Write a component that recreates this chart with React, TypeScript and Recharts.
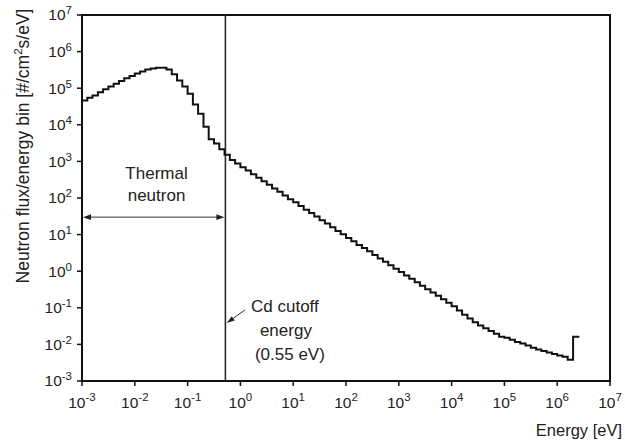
import React from 'react';
import { LineChart, Line, XAxis, YAxis, ReferenceLine, ReferenceArea, ReferenceDot } from 'recharts';

// Energy bin edges [eV] (lower edges, plus the final upper edge)
const energyEdges = [
  1e-3, 1.26e-3, 1.58e-3, 2e-3, 2.51e-3, 3.16e-3, 3.98e-3, 5.01e-3, 6.31e-3, 7.94e-3,
  1e-2, 1.26e-2, 1.58e-2, 2e-2, 2.51e-2, 3.16e-2, 3.98e-2, 5.01e-2, 6.31e-2, 7.94e-2,
  1e-1, 1.26e-1, 1.58e-1, 2e-1, 2.51e-1, 3.16e-1, 3.98e-1, 5.01e-1, 6.31e-1, 7.94e-1,
  1, 1.26, 1.58, 2, 2.51, 3.16, 3.98, 5.01, 6.31, 7.94,
  10, 12.6, 15.8, 20, 25.1, 31.6, 39.8, 50.1, 63.1, 79.4,
  100, 126, 158, 200, 251, 316, 398, 501, 631, 794,
  1e3, 1.26e3, 1.58e3, 2e3, 2.51e3, 3.16e3, 3.98e3, 5.01e3, 6.31e3, 7.94e3,
  1e4, 1.26e4, 1.58e4, 2e4, 2.51e4, 3.16e4, 3.98e4, 5.01e4, 6.31e4, 7.94e4,
  1e5, 1.26e5, 1.58e5, 2e5, 2.51e5, 3.16e5, 3.98e5, 5.01e5, 6.31e5, 7.94e5,
  1e6, 1.26e6, 1.58e6, 2e6, 2.63e6,
];

// Neutron flux per energy bin [#/cm^2 s/eV]
const fluxValues = [
  4.6e4, 5.5e4, 6.3e4, 7.8e4, 9.3e4, 1.12e5, 1.32e5, 1.58e5, 1.86e5, 2.14e5,
  2.51e5, 2.88e5, 3.24e5, 3.47e5, 3.63e5, 3.6e5, 3.24e5, 2.4e5, 1.62e5, 1.12e5,
  7.1e4, 3.6e4, 2.0e4, 8.9e3, 4.0e3, 3.1e3, 2.14e3, 1.51e3, 1.1e3, 870,
  690, 560, 447, 355, 288, 229, 182, 148, 117, 93,
  76, 60, 48, 39, 31, 24.5, 20, 15.8, 12.6, 10.2,
  8.1, 6.6, 5.2, 4.3, 3.5, 2.75, 2.24, 1.82, 1.45, 1.17,
  0.95, 0.76, 0.62, 0.5, 0.4, 0.32, 0.26, 0.214, 0.17, 0.138,
  0.11, 0.085, 0.065, 0.051, 0.04, 0.033, 0.0275, 0.0234, 0.0195, 0.0162,
  0.0151, 0.0135, 0.0117, 0.0105, 0.0093, 0.0081, 0.0072, 0.0066, 0.006, 0.0055,
  0.005, 0.0046, 0.0038, 0.0162,
];

const xTicks = [1e-3, 1e-2, 1e-1, 1, 10, 100, 1e3, 1e4, 1e5, 1e6, 1e7];
const yTicks = [1e-3, 1e-2, 1e-1, 1, 10, 100, 1e3, 1e4, 1e5, 1e6, 1e7];

const cutoffLineEnergy = 0.52;
const thermalArrowFlux = 30;
const thermalArrowStart = 1e-3;
const cdArrowFrom = { x: 1.22, y: 0.087 };
const cdArrowTo = { x: 0.55, y: 0.0385 };
const thermalTextAt = { x: 0.0258, y: 324 };
const cdTextAt = { x: 7.6, y: 0.077 };

const data = energyEdges.map((e, i) => ({
  energy: e,
  flux: fluxValues[Math.min(i, fluxValues.length - 1)],
}));

const FONT = "'Liberation Sans', Arial, Helvetica, sans-serif";
const TEXT = '#222';

const XTick = (props: any) => {
  const { x, y, payload } = props;
  const exp = Math.round(Math.log10(payload.value));
  return (
    <text x={x} y={y + 20} textAnchor="middle" fontFamily={FONT} fontSize={15.5} fill={TEXT}>
      <tspan>10</tspan>
      <tspan dy={-7} fontSize={11.5}>{String(exp)}</tspan>
    </text>
  );
};

const YTick = (props: any) => {
  const { x, y, payload } = props;
  const exp = Math.round(Math.log10(payload.value));
  return (
    <text x={x - 3} y={y + 5.3} textAnchor="end" fontFamily={FONT} fontSize={15.5} fill={TEXT}>
      <tspan>10</tspan>
      <tspan dy={-6} fontSize={11.5}>{String(exp)}</tspan>
    </text>
  );
};

const DoubleArrow = (props: any) => {
  const { x1, y1, x2, y2 } = props;
  const L = 8;
  const W = 2.8;
  const a = Math.min(x1, x2) + 1;
  const b = Math.max(x1, x2) - 1;
  const yy = y1;
  return (
    <g>
      <line x1={a + L - 1} y1={yy} x2={b - L + 1} y2={y2} stroke="#333" strokeWidth={1} />
      <polygon points={`${a},${yy} ${a + L},${yy - W} ${a + L},${yy + W}`} fill="#222" />
      <polygon points={`${b},${yy} ${b - L},${yy - W} ${b - L},${yy + W}`} fill="#222" />
    </g>
  );
};

const PointerArrow = (props: any) => {
  const { x1, y1, x2, y2 } = props;
  const dx = x2 - x1;
  const dy = y2 - y1;
  const len = Math.hypot(dx, dy) || 1;
  const ux = dx / len;
  const uy = dy / len;
  const L = 8;
  const W = 2.6;
  const bx = x2 - ux * L;
  const by = y2 - uy * L;
  const px = -uy;
  const py = ux;
  return (
    <g>
      <line x1={x1} y1={y1} x2={bx + ux} y2={by + uy} stroke="#333" strokeWidth={1} />
      <polygon
        points={`${x2},${y2} ${bx + px * W},${by + py * W} ${bx - px * W},${by - py * W}`}
        fill="#222"
      />
    </g>
  );
};

const ThermalText = (p: any) => (
  <text x={p.cx} y={p.cy} textAnchor="middle" fontFamily={FONT} fontSize={17} fill={TEXT}>
    <tspan x={p.cx}>Thermal</tspan>
    <tspan x={p.cx} dy={21.5}>neutron</tspan>
  </text>
);

const CdText = (p: any) => (
  <text x={p.cx} y={p.cy} textAnchor="middle" fontFamily={FONT} fontSize={17} fill={TEXT}>
    <tspan x={p.cx - 2}>Cd cutoff</tspan>
    <tspan x={p.cx - 1} dy={24}>energy</tspan>
    <tspan x={p.cx + 3} dy={24}>(0.55 eV)</tspan>
  </text>
);

const XTitle = (props: any) => {
  const vb = props.viewBox || { x: 82, y: 381, width: 528, height: 61 };
  return (
    <text x={vb.x + vb.width + 12} y={vb.y + 55} textAnchor="end" fontFamily={FONT} fontSize={16.5} fill={TEXT}>
      Energy [eV]
    </text>
  );
};

const YTitle = () => (
  <text
    x={29}
    y={146}
    transform="rotate(-90, 29, 146)"
    textAnchor="middle"
    fontFamily={FONT}
    fontSize={17.5}
    fill={TEXT}
  >
    <tspan>Neutron flux/energy bin [#/cm</tspan>
    <tspan dy={-7} fontSize={11.5}>2</tspan>
    <tspan dy={7} fontSize={17.5}>s/eV]</tspan>
  </text>
);

export default function App() {
  return (
    <div style={{ position: 'absolute', left: 0, top: 0, width: 625, height: 442, background: '#fff' }}>
      <LineChart
        width={625}
        height={442}
        data={data}
        margin={{ top: 15, right: 15, bottom: 0, left: 0 }}
      >
        <XAxis
          dataKey="energy"
          type="number"
          scale="log"
          domain={[1e-3, 1e7]}
          allowDataOverflow
          ticks={xTicks}
          interval={0}
          height={61}
          tickSize={5}
          tick={<XTick />}
          tickLine={{ stroke: '#111', strokeWidth: 1.5 }}
          axisLine={{ stroke: '#111', strokeWidth: 2 }}
          label={(p: any) => <XTitle {...p} />}
        />
        <YAxis
          type="number"
          scale="log"
          domain={[1e-3, 1e7]}
          allowDataOverflow
          ticks={yTicks}
          interval={0}
          width={82}
          tickSize={5}
          tick={<YTick />}
          tickLine={{ stroke: '#111', strokeWidth: 1.5 }}
          axisLine={{ stroke: '#111', strokeWidth: 2 }}
          label={() => <YTitle />}
        />
        <ReferenceArea
          x1={1e-3}
          x2={1e7}
          y1={1e-3}
          y2={1e7}
          fill="none"
          fillOpacity={0}
          stroke="#111"
          strokeWidth={2}
        />
        <ReferenceLine x={cutoffLineEnergy} stroke="#2a2a2a" strokeWidth={1.6} />
        <ReferenceLine
          segment={[
            { x: thermalArrowStart, y: thermalArrowFlux },
            { x: cutoffLineEnergy, y: thermalArrowFlux },
          ]}
          shape={(p: any) => <DoubleArrow {...p} />}
        />
        <ReferenceLine
          segment={[cdArrowFrom, cdArrowTo]}
          shape={(p: any) => <PointerArrow {...p} />}
        />
        <ReferenceDot x={thermalTextAt.x} y={thermalTextAt.y} r={0} shape={(p: any) => <ThermalText {...p} />} />
        <ReferenceDot x={cdTextAt.x} y={cdTextAt.y} r={0} shape={(p: any) => <CdText {...p} />} />
        <Line
          type="stepAfter"
          dataKey="flux"
          stroke="#111"
          strokeWidth={2}
          dot={false}
          activeDot={false}
          isAnimationActive={false}
        />
      </LineChart>
    </div>
  );
}
